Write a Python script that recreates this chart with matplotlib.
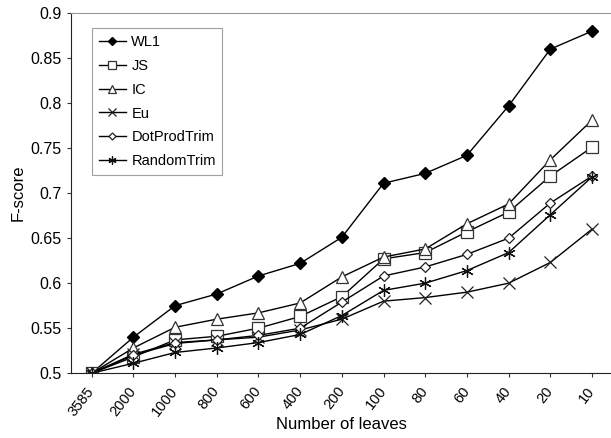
import matplotlib
matplotlib.use("Agg")
import matplotlib.pyplot as plt
import numpy as np

plt.rcParams['font.family'] = ['Liberation Sans', 'DejaVu Sans']

leaves = ['3585', '2000', '1000', '800', '600', '400', '200', '100', '80', '60', '40', '20', '10']

wl1 = [0.5, 0.54, 0.575, 0.588, 0.608, 0.622, 0.651, 0.711, 0.722, 0.742, 0.797, 0.86, 0.88]
js = [0.5, 0.518, 0.537, 0.541, 0.55, 0.563, 0.585, 0.627, 0.634, 0.657, 0.679, 0.719, 0.751]
ic = [0.5, 0.528, 0.551, 0.56, 0.567, 0.578, 0.607, 0.629, 0.638, 0.666, 0.688, 0.737, 0.781]
eu = [0.5, 0.521, 0.534, 0.537, 0.54, 0.548, 0.56, 0.58, 0.584, 0.59, 0.6, 0.623, 0.66]
dotprod = [0.5, 0.52, 0.533, 0.537, 0.542, 0.55, 0.579, 0.608, 0.618, 0.632, 0.65, 0.689, 0.719]
randtrim = [0.5, 0.511, 0.523, 0.528, 0.534, 0.543, 0.564, 0.592, 0.6, 0.614, 0.634, 0.676, 0.718]

yticks = [0.5, 0.55, 0.6, 0.65, 0.7, 0.75, 0.8, 0.85, 0.9]
ytick_labels = ['0.5', '0.55', '0.6', '0.65', '0.7', '0.75', '0.8', '0.85', '0.9']

fig = plt.figure(figsize=(6.11, 4.38), dpi=100)
ax = fig.add_axes([0.116, 0.148, 0.887, 0.822])

x = np.arange(len(leaves))
lw = 1.0
ax.plot(x, wl1, color='black', lw=lw, marker='D', ms=6.5, mfc='black', mec='black', label='WL1')
ax.plot(x, js, color='black', lw=lw, marker='s', ms=8, mfc='white', mec='#333333', mew=0.9, label='JS')
ax.plot(x, ic, color='black', lw=lw, marker='^', ms=9, mfc='white', mec='#333333', mew=0.9, label='IC')
ax.plot(x, eu, color='black', lw=lw, marker='x', ms=9, mec='#222222', mew=0.9, label='Eu')
ax.plot(x, dotprod, color='black', lw=lw, marker='D', ms=5.5, mfc='white', mec='#222222', mew=0.9, label='DotProdTrim')
ax.plot(x, randtrim, color='black', lw=lw, marker=(6, 2, 0), ms=9, mec='#111111', mew=0.9, label='RandomTrim')

ax.set_xlim(-0.5, len(leaves) - 0.5)
ax.set_ylim(0.5, 0.9)
ax.set_xticks(x)
ax.set_xticklabels(leaves, rotation=52, ha='right', va='center', rotation_mode='anchor', fontsize=10.5)
ax.tick_params(axis='x', pad=8)
ax.set_yticks(yticks)
ax.set_yticklabels(ytick_labels, fontsize=11.5)
ax.tick_params(direction='out', length=3, width=0.8, color='#333333')

ax.spines['right'].set_visible(False)
ax.spines['top'].set_color('#999999')
ax.spines['left'].set_color('#222222')
ax.spines['bottom'].set_color('#222222')

ax.set_xlabel('Number of leaves', fontsize=12)
ax.xaxis.set_label_coords(0.5, -0.122)
ax.set_ylabel('F-score', fontsize=12)
ax.yaxis.set_label_coords(-0.083, 0.5)

leg = ax.legend(loc='upper left', bbox_to_anchor=(0.039, 0.958), borderaxespad=0,
                fontsize=10.5, markerscale=0.65,
                frameon=True, fancybox=False, edgecolor='#888888', handlelength=1.85,
                handletextpad=0.4, labelspacing=0.68, borderpad=0.45)
leg.get_frame().set_linewidth(0.8)

fig.savefig('out.png', dpi=100)
